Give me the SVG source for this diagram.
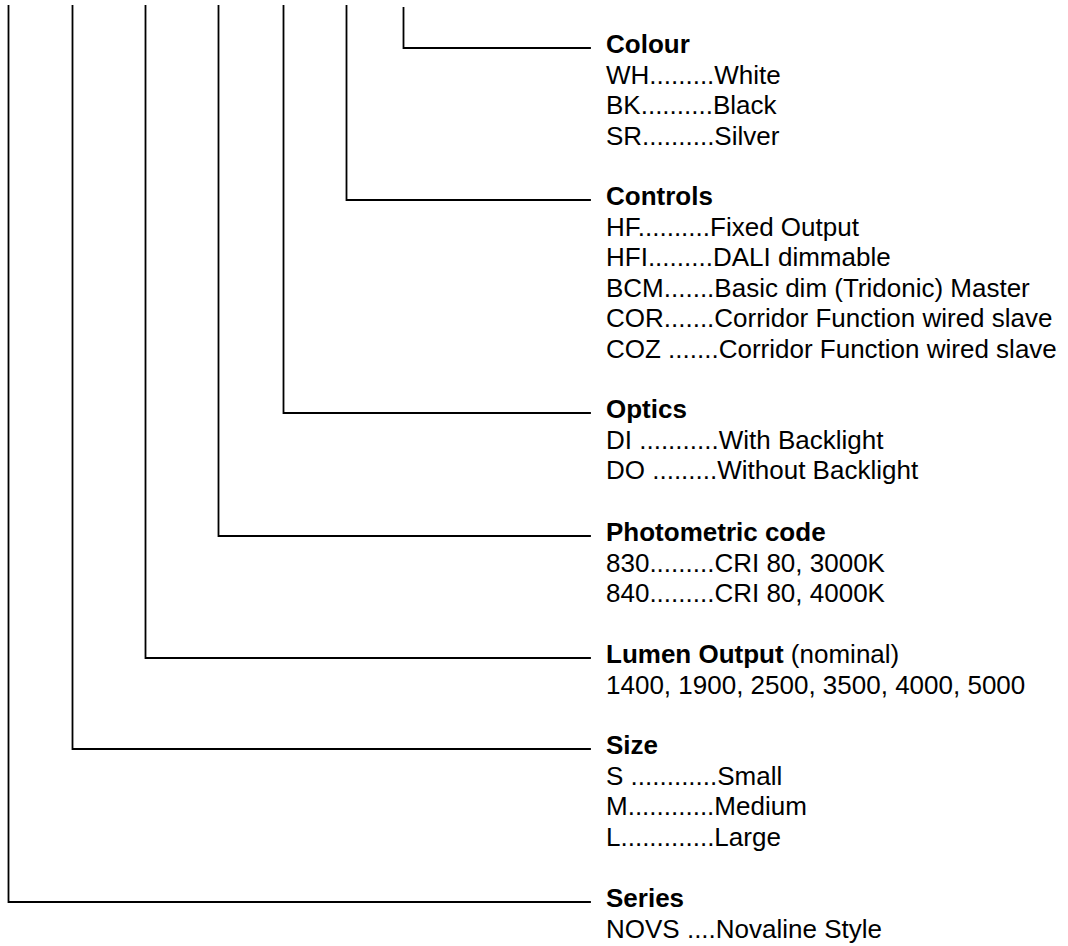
<svg xmlns="http://www.w3.org/2000/svg" width="1068" height="946" viewBox="0 0 1068 946">
<style>
.c{fill:none;stroke:#000;stroke-width:1.8;stroke-linecap:square}
text{font-family:"Liberation Sans",Arial,sans-serif;font-size:26px;fill:#000}
.t{font-weight:bold}
</style>
<rect width="1068" height="946" fill="#fff"/>
<g id="connectors">
<polyline class="c" points="403.5,8 403.5,48 590,48"/>
<polyline class="c" points="346.5,6 346.5,200 590,200"/>
<polyline class="c" points="283.5,6 283.5,413 590,413"/>
<polyline class="c" points="218.5,6 218.5,536 590,536"/>
<polyline class="c" points="145.5,6 145.5,658 590,658"/>
<polyline class="c" points="72.5,6 72.5,749 590,749"/>
<polyline class="c" points="8.5,6 8.5,902 590,902"/>
</g>
<g id="colour">
<text x="606" y="53" class="t">Colour</text>
<text x="606" y="83.5">WH.........White</text>
<text x="606" y="114">BK..........Black</text>
<text x="606" y="144.5">SR..........Silver</text>
</g>
<g id="controls">
<text x="606" y="205" class="t">Controls</text>
<text x="606" y="235.5">HF..........Fixed Output</text>
<text x="606" y="266">HFI.........DALI dimmable</text>
<text x="606" y="296.5">BCM.......Basic dim (Tridonic) Master</text>
<text x="606" y="327">COR.......Corridor Function wired slave</text>
<text x="606" y="357.5">COZ .......Corridor Function wired slave</text>
</g>
<g id="optics">
<text x="606" y="418" class="t">Optics</text>
<text x="606" y="448.5">DI ...........With Backlight</text>
<text x="606" y="479">DO .........Without Backlight</text>
</g>
<g id="photometric">
<text x="606" y="541" class="t">Photometric code</text>
<text x="606" y="571.5">830.........CRI 80, 3000K</text>
<text x="606" y="602">840.........CRI 80, 4000K</text>
</g>
<g id="lumen">
<text x="606" y="663"><tspan class="t">Lumen Output</tspan> (nominal)</text>
<text x="606" y="693.5">1400, 1900, 2500, 3500, 4000, 5000</text>
</g>
<g id="size">
<text x="606" y="754" class="t">Size</text>
<text x="606" y="784.5">S ............Small</text>
<text x="606" y="815">M............Medium</text>
<text x="606" y="845.5">L.............Large</text>
</g>
<g id="series">
<text x="606" y="907" class="t">Series</text>
<text x="606" y="937.5">NOVS ....Novaline Style</text>
</g>
</svg>
